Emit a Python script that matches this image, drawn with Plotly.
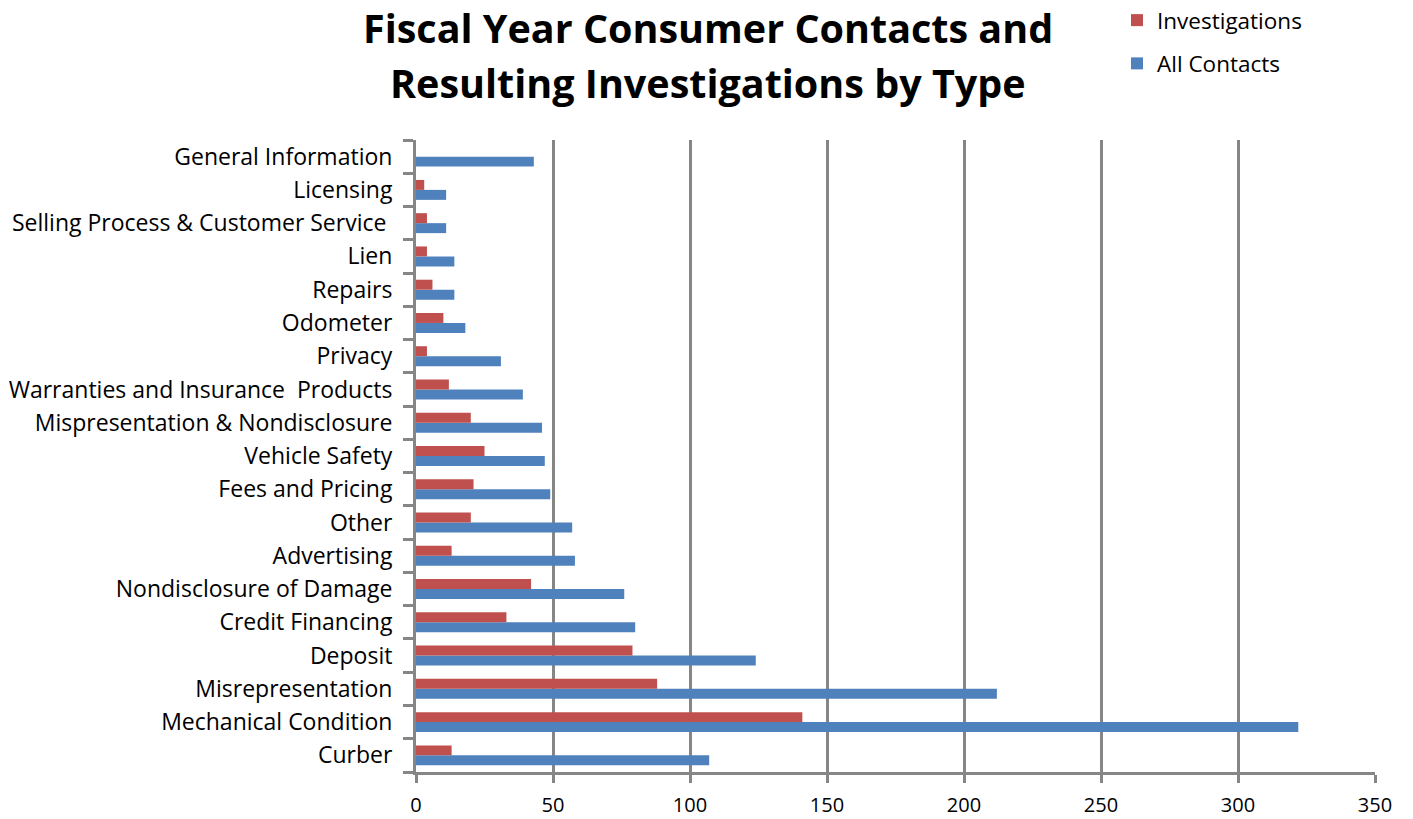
import plotly.graph_objects as go

categories = ["Curber", "Mechanical Condition", "Misrepresentation", "Deposit",
              "Credit Financing", "Nondisclosure of Damage", "Advertising", "Other",
              "Fees and Pricing", "Vehicle Safety", "Mispresentation & Nondisclosure",
              "Warranties and Insurance  Products", "Privacy", "Odometer", "Repairs",
              "Lien", "Selling Process & Customer Service ", "Licensing", "General Information"]
all_contacts = [107, 322, 212, 124, 80, 76, 58, 57, 49, 47, 46, 39, 31, 18, 14, 14, 11, 11, 43]
investigations = [13, 141, 88, 79, 33, 42, 13, 20, 21, 25, 20, 12, 4, 10, 6, 4, 4, 3, 0]
x_ticks = [0, 50, 100, 150, 200, 250, 300, 350]
title_lines = ["Fiscal Year Consumer Contacts and", "Resulting Investigations by Type"]

FONT = "Open Sans"
GRID = "#868686"
W, H = 1413, 819
L, R, T, B = 416, 38, 140, 47
PW, PH = W - L - R, H - T - B

fig = go.Figure()
fig.add_trace(go.Bar(y=categories, x=all_contacts, orientation="h", name="All Contacts",
                     marker=dict(color="#4F81BD", line=dict(width=0)),
                     legendgroup="a", legendrank=2))
fig.add_trace(go.Bar(y=categories, x=investigations, orientation="h", name="Investigations",
                     marker=dict(color="#C0504D", line=dict(width=0)),
                     legendgroup="b", legendrank=1))

fig.update_layout(
    width=W, height=H,
    margin=dict(l=L, r=R, t=T, b=B, autoexpand=False),
    paper_bgcolor="white", plot_bgcolor="white",
    barmode="group", bargap=0.4, bargroupgap=0,
    font=dict(family=FONT, size=20, color="black"),
    legend=dict(traceorder="grouped",
                x=(1117 - L) / PW, y=1 + (T + 1) / PH, xanchor="left", yanchor="top",
                font=dict(size=22.5, family=FONT), tracegroupgap=11,
                itemwidth=30, bgcolor="rgba(0,0,0,0)"),
    showlegend=True,
)

fig.update_xaxes(range=[0, 350], tickvals=x_ticks, showgrid=True, gridcolor=GRID, gridwidth=3,
                 showline=True, linecolor=GRID, linewidth=3, ticks="outside", ticklen=8,
                 tickwidth=3, tickcolor=GRID, zeroline=False, ticklabelstandoff=5,
                 tickfont=dict(size=20, family=FONT))
fig.update_yaxes(type="category", categoryorder="array", categoryarray=categories,
                 tickson="boundaries", ticks="outside", ticklen=10, tickwidth=3, tickcolor=GRID,
                 showline=True, linecolor=GRID, linewidth=3, showgrid=False,
                 ticklabelstandoff=16, tickfont=dict(size=23, family=FONT))

for line, yc in zip(title_lines, [28, 83]):
    fig.add_annotation(text="<b>" + line + "</b>",
                       xref="paper", yref="paper", x=(708 - L) / PW, y=1 + (T - yc) / PH,
                       xanchor="center", yanchor="middle", showarrow=False, borderpad=0,
                       font=dict(size=39.5, family=FONT, color="black"))

fig.write_html("out.html", config={"displayModeBar": False},
               post_script="document.body.style.margin='0';")
